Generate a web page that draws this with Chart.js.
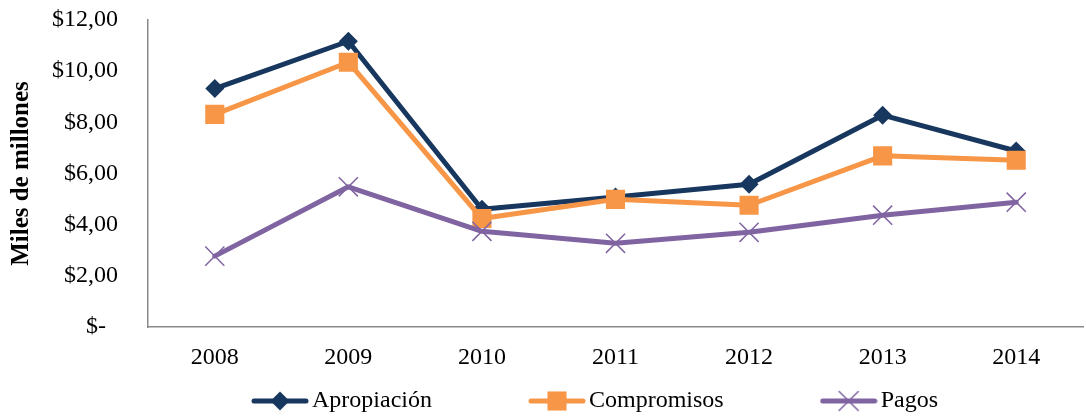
<!DOCTYPE html>
<html>
<head>
<meta charset="utf-8">
<script src="https://cdn.jsdelivr.net/npm/chart.js@4.4.1/dist/chart.umd.min.js"></script>
<style>
  html, body { margin: 0; padding: 0; background: #fff; overflow: hidden; }
</style>
</head>
<body>
<canvas id="chart" width="1098" height="416"></canvas>
<script>
const years = ["2008", "2009", "2010", "2011", "2012", "2013", "2014"];
const apropiacion = [9.32, 11.17, 4.60, 5.08, 5.58, 8.28, 6.88];
const compromisos = [8.31, 10.35, 4.24, 4.99, 4.76, 6.69, 6.52];
const pagos = [2.77, 5.48, 3.74, 3.27, 3.70, 4.37, 4.88];
const yTicks = [0, 2, 4, 6, 8, 10, 12];

const FONT = "'Liberation Serif', 'Times New Roman', serif";
const NAVY = "#17375E";
const ORANGE = "#F79646";
const PURPLE = "#8064A2";
const AXIS = "#898989";

function money(v) {
    if (v === 0) return "$-  ";
    return "$" + v.toFixed(2).replace(".", ",");
}

// legend icon: short line with the series marker in the middle
function legendIcon(color, marker) {
    const c = document.createElement("canvas");
    c.width = 58;
    c.height = 24;
    const ctx = c.getContext("2d");
    ctx.strokeStyle = color;
    ctx.lineWidth = 5;
    ctx.lineCap = "round";
    ctx.beginPath();
    ctx.moveTo(3, 12);
    ctx.lineTo(55, 12);
    ctx.stroke();
    ctx.fillStyle = color;
    ctx.lineWidth = marker.borderWidth || 0;
    if (Chart.helpers && Chart.helpers.drawPoint) {
        Chart.helpers.drawPoint(ctx, {
            pointStyle: marker.pointStyle,
            radius: marker.radius,
            borderWidth: marker.borderWidth || 0,
            rotation: 0
        }, 29, 12);
    }
    return c;
}

const markers = [
    { pointStyle: "rectRot", radius: 9.5, borderWidth: 0 },
    { pointStyle: "rect", radius: 13.5, borderWidth: 0 },
    { pointStyle: "crossRot", radius: 13.5, borderWidth: 1.5 }
];
const colors = [NAVY, ORANGE, PURPLE];
const icons = colors.map((c, i) => legendIcon(c, markers[i]));

const legendPlace = {
    id: "legendPlace",
    afterLayout(chart) {
        const lg = chart.legend;
        const pad = lg.options.labels.padding;
        lg.left = 260 - pad;
        lg.top = 389 - pad;
        lg.bottom = chart.height;
    }
};

function series(label, data, i, order) {
    return {
        label: label,
        data: data,
        borderColor: colors[i],
        backgroundColor: colors[i],
        borderWidth: 5,
        borderJoinStyle: "round",
        borderCapStyle: "round",
        pointStyle: markers[i].pointStyle,
        pointRadius: markers[i].radius,
        pointHoverRadius: markers[i].radius,
        pointBorderWidth: markers[i].borderWidth,
        pointBorderColor: colors[i],
        pointBackgroundColor: colors[i],
        tension: 0,
        order: order
    };
}

new Chart(document.getElementById("chart").getContext("2d"), {
    type: "line",
    data: {
        labels: years,
        datasets: [
            series("Apropiación", apropiacion, 0, 3),
            series("Compromisos", compromisos, 1, 2),
            series("Pagos", pagos, 2, 1)
        ]
    },
    options: {
        responsive: false,
        animation: false,
        layout: { padding: { top: 20, left: 0, right: 0, bottom: 0 } },
        scales: {
            x: {
                offset: true,
                grid: { display: false, drawTicks: false },
                border: { display: true, color: AXIS, width: 1.5 },
                ticks: { color: "#000", font: { family: FONT, size: 24 }, padding: 16, maxRotation: 0 },
                afterFit(s) { s.height = 45; }
            },
            y: {
                min: 0,
                max: 12,
                afterBuildTicks(s) { s.ticks = yTicks.map(v => ({ value: v })); },
                grid: { display: false, drawTicks: false },
                border: { display: true, color: AXIS, width: 1.5 },
                ticks: { color: "#000", font: { family: FONT, size: 24 }, padding: 30, callback: v => money(v) },
                title: {
                    display: true,
                    text: "Miles de millones",
                    color: "#000",
                    font: { family: FONT, size: 25, weight: "bold" },
                    padding: { top: 7, bottom: 0 }
                },
                afterFit(s) {
                    s.width = 148;
                    s.paddingTop = 12;
                    s.paddingBottom = 12;
                }
            }
        },
        plugins: {
            tooltip: { enabled: false },
            legend: {
                position: "bottom",
                align: "start",
                maxHeight: 44,
                labels: {
                    usePointStyle: true,
                    pointStyleWidth: 40,
                    padding: 105,
                    color: "#000",
                    font: { family: FONT, size: 24 },
                    generateLabels(chart) {
                        const items = Chart.defaults.plugins.legend.labels.generateLabels(chart);
                        items.sort((a, b) => a.datasetIndex - b.datasetIndex);
                        items.forEach(it => { it.pointStyle = icons[it.datasetIndex]; });
                        return items;
                    }
                }
            }
        }
    },
    plugins: [legendPlace]
});
</script>
</body>
</html>
